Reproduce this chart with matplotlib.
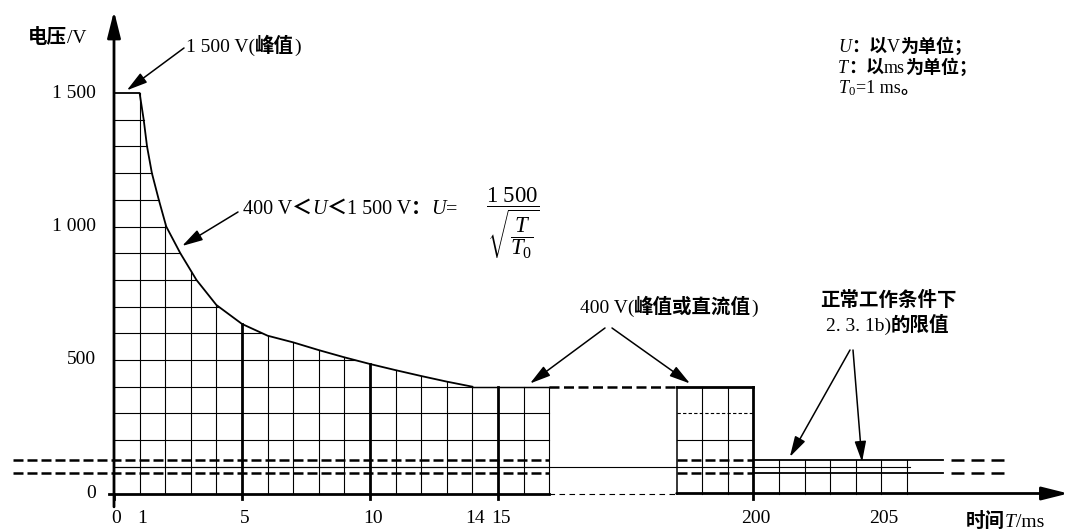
import numpy as np
import matplotlib
matplotlib.use('Agg')
import matplotlib.pyplot as plt

plt.rcParams['font.family'] = ['Liberation Serif', 'Noto Sans CJK SC']
plt.rcParams['mathtext.fontset'] = 'custom'
plt.rcParams['mathtext.rm'] = 'Liberation Serif'
plt.rcParams['mathtext.it'] = 'Liberation Serif:italic'

###--- data ---###
# decay curve, time in ms, voltage in V
curve_t = [0, 1.0, 1.16, 1.29, 1.48, 1.75, 2.04, 2.59, 3.22, 4, 5, 6, 7, 8, 9, 10, 11, 12, 13, 14]
curve_v = [1500, 1500, 1400, 1300, 1200, 1100, 1000, 900, 800, 706, 635, 591, 566, 537, 510, 485, 462, 440, 419, 400]
hold_v = 400            # 400 V level (peak or dc)
hold_end = 17           # last ms drawn before the break
break_end = 197         # first ms drawn after the break
step_t = 200            # drop to the normal limit
tail_end = 206
lim_lo, lim_hi = 75, 125  # normal operating limit band
mid_v = 100

grid_v = [100, 200, 300, 400, 500, 600, 700, 800, 900, 1000, 1100, 1200, 1300, 1400]
grid_t1 = list(range(1, 18))
grid_t2 = [198, 199]
grid_t3 = [201, 202, 203, 204, 205, 206]
bold_t = [5, 10, 15]

yticks = [0, 500, 1000, 1500]
ylabels = ['0', '500', '1 000', '1 500']
xticks = [0, 1, 5, 10, 14, 15, 200, 205]
xlabels = ['0', '1', '5', '10', '14', '15', '200', '205']

###--- broken time axis ---###
GAP = 4.98
def fwd(t):
    t = np.asarray(t, dtype=float)
    return np.where(t <= 17, t, np.where(t >= 197, t - 197 + 17 + GAP, 17 + (t - 17) * GAP / 180))
def inv(u):
    u = np.asarray(u, dtype=float)
    return np.where(u <= 17, u, np.where(u >= 17 + GAP, u - 17 - GAP + 197, 17 + (u - 17) * 180 / GAP))

W, H = 1071, 531
fig = plt.figure(figsize=(W / 100, H / 100), dpi=100)
ax = fig.add_axes([0, 0, 1, 1])
ax.set_xscale('function', functions=(fwd, inv))
ax.set_xlim(-114 / 25.6, float(inv(957 / 25.6)))
ax.set_ylim(-37.5 / 0.267, 493.5 / 0.267)
ax.axis('off')

def px(x, y):
    return (x / W, 1 - y / H)

K = 'black'
thin = 0.8
bold = 2.0

# horizontal grid, first part
for v in grid_v:
    if v <= hold_v:
        x_end = hold_end
    else:
        x_end = np.interp(v, curve_v[::-1], curve_t[::-1])
    ax.plot([0, x_end], [v, v], color=K, lw=thin)
# vertical grid, first part
for t in grid_t1:
    top = np.interp(t, curve_t, curve_v) if t <= 14 else hold_v
    ax.plot([t, t], [0, top], color=K, lw=bold if t in bold_t else thin)

# curve and 400 V level
ax.plot(curve_t, curve_v, color=K, lw=1.3)
ax.plot([curve_t[-1], hold_end], [hold_v, hold_v], color=K, lw=1.0)
ax.plot([hold_end, break_end], [hold_v, hold_v], color=K, lw=1.8, dashes=(4, 1.8))
ax.plot([break_end, step_t], [hold_v, hold_v], color=K, lw=bold)

# part after the break
for t in [break_end] + grid_t2:
    ax.plot([t, t], [0, hold_v], color=K, lw=1.1 if t == break_end else thin)
ax.plot([step_t, step_t], [-20, hold_v], color=K, lw=bold)
ax.plot([break_end, step_t], [200, 200], color=K, lw=thin)
ax.plot([break_end, step_t], [300, 300], color=K, lw=thin, dashes=(3, 2))
for t in grid_t3:
    ax.plot([t, t], [0, lim_hi], color=K, lw=thin)

# limit band
for v in [lim_lo, lim_hi]:
    ax.plot([-3.96, hold_end], [v, v], color=K, lw=1.8, dashes=(4, 1.6))
    ax.plot([break_end, step_t], [v, v], color=K, lw=1.8, dashes=(4, 1.6))
    ax.plot([step_t, 207.4], [v, v], color=K, lw=1.3)
    ax.plot([207.7, 209.8], [v, v], color=K, lw=1.8, dashes=(5.2, 2.8))
ax.plot([0, 206.1], [mid_v, mid_v], color=K, lw=thin)

# axes
ax.plot([-0.2, hold_end], [0, 0], color=K, lw=bold)
ax.plot([hold_end, break_end], [0, 0], color=K, lw=thin, dashes=(5, 4))
arr = dict(arrowstyle='-|>,head_length=1.0,head_width=0.25', color=K, lw=bold,
           mutation_scale=16, shrinkA=0, shrinkB=0)
ax.annotate('', xy=(212.3, 0), xytext=(break_end, 0), arrowprops=arr)
ax.annotate('', xy=(0, 1807), xytext=(0, -50), arrowprops=arr)
for t in [0, 5, 10, 15]:
    ax.plot([t, t], [-22, 0], color=K, lw=bold)

# tick labels
FS = 14
for v, s in zip(yticks, ylabels):
    ax.text(-0.7, v, s, ha='right', va='center', fontsize=FS)
for t, s in zip(xticks, xlabels):
    ax.text(t + 0.1, -92, s, ha='center', va='center', fontsize=FS)

rend = fig.canvas.get_renderer()

def split_cjk(s):
    out, cur, kind = [], '', None
    for ch in s:
        c = ord(ch) >= 0x2E80
        if kind is not None and c != kind:
            out.append((cur, kind))
            cur = ''
        cur += ch
        kind = c
    out.append((cur, kind))
    return out

def chain(parts, x, y, fs=FS):
    # pieces of one line set one after the other on a common baseline;
    # Chinese runs in bold sans, the rest in serif
    for s, st in parts:
        for run, cjk in split_cjk(s):
            if cjk:
                t = fig.text(x / W, 1 - y / H, run, ha='left', va='baseline', fontsize=fs,
                             family='Noto Sans CJK SC', weight='bold')
            else:
                t = fig.text(x / W, 1 - y / H, run, ha='left', va='baseline', fontsize=fs, style=st)
            x = t.get_window_extent(rend).x1

chain([('电压/V', 'normal')], 28, 43)
chain([('时间', 'normal'), ('T', 'italic'), ('/ms', 'normal')], 966, 527)

# notes
chain([('U', 'italic'), ('：以V为单位；', 'normal')], 838, 52, fs=13)
chain([('T', 'italic'), ('：以ms为单位；', 'normal')], 838, 73, fs=13)
chain([('$T_0$', 'normal'), ('=1 ms。', 'normal')], 838, 93, fs=13)

# annotations
ann = dict(arrowstyle='-|>,head_length=0.9,head_width=0.25', color=K, lw=1.1,
           mutation_scale=14, shrinkA=0, shrinkB=0)
chain([('1 500 V(峰值)', 'normal')], 186, 52)
ax.annotate('', xy=(0.5, 1510), xytext=px(184, 48), textcoords='figure fraction', arrowprops=ann)

chain([('400 V＜', 'normal'), ('U', 'italic'), ('＜1 500 V：', 'normal'), ('U', 'italic'), ('=', 'normal')], 243, 214, fs=14.5)
fig.text(513 / W, 1 - 223 / H, r'$\dfrac{1\ 500}{\sqrt{\dfrac{T}{T_0}}}$', ha='center', va='center', fontsize=16.5)
ax.annotate('', xy=(2.66, 927), xytext=px(238, 212), textcoords='figure fraction', arrowprops=ann)

chain([('400 V(峰值或直流值)', 'normal')], 580, 313)
ax.annotate('', xy=(16.25, 412), xytext=px(605, 328), textcoords='figure fraction', arrowprops=ann)
ax.annotate('', xy=(197.52, 412), xytext=px(612, 328), textcoords='figure fraction', arrowprops=ann)

chain([('正常工作条件下', 'normal')], 820, 306)
chain([('2. 3. 1b)的限值', 'normal')], 826, 331)
ax.annotate('', xy=(201.42, 137), xytext=px(850, 350), textcoords='figure fraction', arrowprops=ann)
ax.annotate('', xy=(204.24, 118), xytext=px(853, 350), textcoords='figure fraction', arrowprops=ann)

fig.savefig('out.png', dpi=100)
